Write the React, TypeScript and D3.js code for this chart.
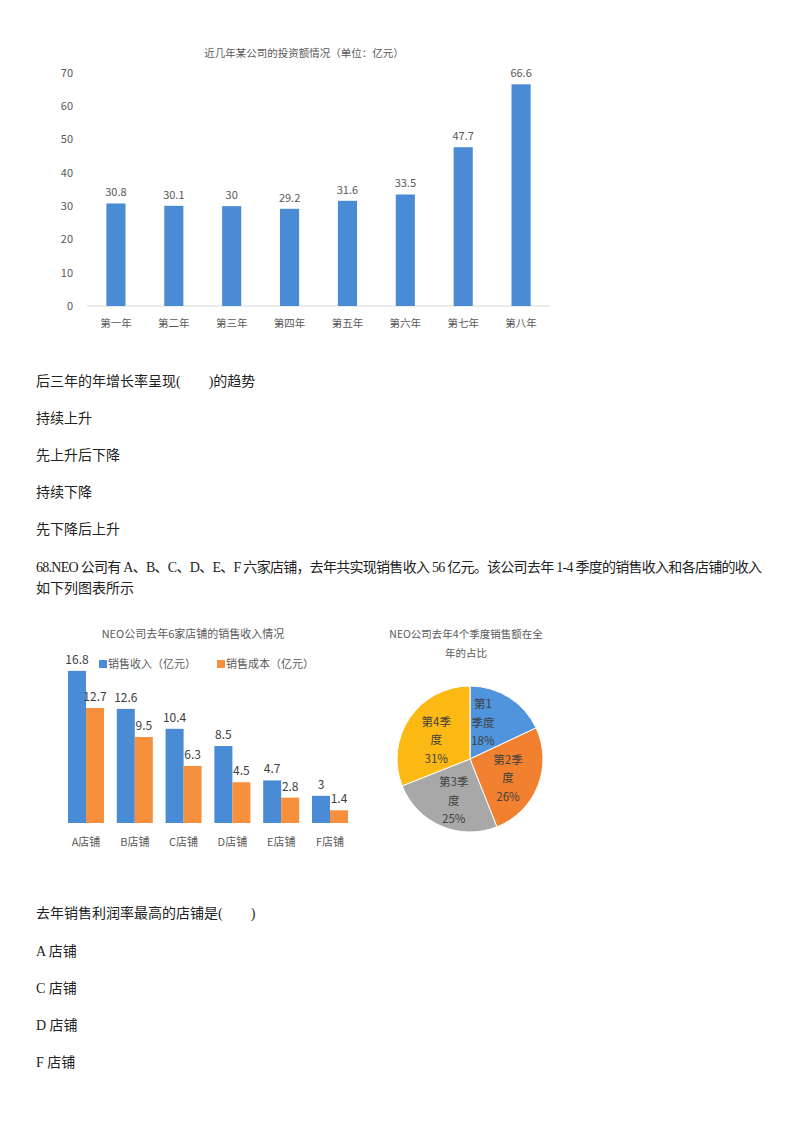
import React, {useEffect, useRef} from 'react';
import * as d3 from 'd3';

// chart 1: investment by year
const YEARS = ['第一年', '第二年', '第三年', '第四年', '第五年', '第六年', '第七年', '第八年'];
const INVESTMENT = [30.8, 30.1, 30, 29.2, 31.6, 33.5, 47.7, 66.6];
const INVESTMENT_TICKS = [0, 10, 20, 30, 40, 50, 60, 70];

// chart 2: stores
const STORES = ['A店铺', 'B店铺', 'C店铺', 'D店铺', 'E店铺', 'F店铺'];
const STORE_REVENUE = [16.8, 12.6, 10.4, 8.5, 4.7, 3];
const STORE_COST = [12.7, 9.5, 6.3, 4.5, 2.8, 1.4];
const SERIES_NAMES = ['销售收入（亿元）', '销售成本（亿元）'];

// chart 3: quarters
const QUARTER_LINES = [['第1', '季度'], ['第2季', '度'], ['第3季', '度'], ['第4季', '度']];
const QUARTER_SHARE = [18, 26, 25, 31];

// question text
const QUESTION_1 = '后三年的年增长率呈现(\u3000\u3000)的趋势';
const OPTIONS_1 = ['持续上升', '先上升后下降', '持续下降', '先下降后上升'];
const QUESTION_2 = [
    '68.NEO 公司有 A、B、C、D、E、F 六家店铺，去年共实现销售收入 56 亿元。该公司去年 1-4 季度的销售收入和各店铺的收入',
    '如下列图表所示',
];
const QUESTION_3 = '去年销售利润率最高的店铺是(\u3000\u3000)';
const OPTIONS_3 = ['A 店铺', 'C 店铺', 'D 店铺', 'F 店铺'];

const CHART_FONT = '"Noto Sans CJK SC", "Noto Sans", sans-serif';
const BODY_FONT = '"Liberation Serif", "Noto Sans CJK SC", serif';
const LABEL_GRAY = '#595959';
const BLUE = '#4a8bd5';
const ORANGE = '#f7903d';
const PIE_COLORS = ['#4f94dc', '#f2812f', '#a8a8a8', '#fdb913'];

const App: React.FC = () => {
    const svgRef = useRef<SVGSVGElement | null>(null);

    useEffect(() => {
        if (!svgRef.current) return;
        const svg = d3.select(svgRef.current);
        svg.selectAll('*').remove();
        drawInvestmentChart(svg);
        drawStoreChart(svg);
        drawQuarterPie(svg);
        drawText(svg);
    }, []);

    const drawInvestmentChart = (svg: d3.Selection<SVGSVGElement, unknown, null, undefined>) => {
        const g = svg.append('g').style('font-family', CHART_FONT);
        const x = d3.scaleBand<string>().domain(YEARS).range([87, 550]).paddingInner(0.67).paddingOuter(0.335);
        const y = d3.scaleLinear().domain([0, 70]).range([306, 73]);

        g.append('text')
            .attr('x', 304)
            .attr('y', 57)
            .attr('text-anchor', 'middle')
            .style('font-size', '10.5px')
            .style('fill', LABEL_GRAY)
            .text('近几年某公司的投资额情况（单位：亿元）');

        g.selectAll('.tick-label')
            .data(INVESTMENT_TICKS)
            .enter()
            .append('text')
            .attr('x', 73)
            .attr('y', (d) => y(d))
            .attr('dy', '0.35em')
            .attr('text-anchor', 'end')
            .style('font-size', '11px')
            .style('fill', LABEL_GRAY)
            .text((d) => d);

        g.append('line')
            .attr('x1', 87)
            .attr('x2', 550)
            .attr('y1', y(0))
            .attr('y2', y(0))
            .attr('stroke', '#d9d9d9');

        g.selectAll('.bar')
            .data(INVESTMENT)
            .enter()
            .append('rect')
            .attr('x', (_, i) => x(YEARS[i]) as number)
            .attr('y', (d) => y(d))
            .attr('width', x.bandwidth())
            .attr('height', (d) => y(0) - y(d))
            .attr('fill', BLUE);

        g.selectAll('.value')
            .data(INVESTMENT)
            .enter()
            .append('text')
            .attr('x', (_, i) => (x(YEARS[i]) as number) + x.bandwidth() / 2)
            .attr('y', (d) => y(d) - 7)
            .attr('text-anchor', 'middle')
            .style('font-size', '11px')
            .style('fill', LABEL_GRAY)
            .text((d) => d);

        g.selectAll('.cat')
            .data(YEARS)
            .enter()
            .append('text')
            .attr('x', (d) => (x(d) as number) + x.bandwidth() / 2)
            .attr('y', 327)
            .attr('text-anchor', 'middle')
            .style('font-size', '10.5px')
            .style('fill', LABEL_GRAY)
            .text((d) => d);
    };

    const drawStoreChart = (svg: d3.Selection<SVGSVGElement, unknown, null, undefined>) => {
        const g = svg.append('g').style('font-family', CHART_FONT);
        const x0 = d3.scaleBand<string>().domain(STORES).range([61.6, 354.4]).paddingInner(0.262).paddingOuter(0.131);
        const x1 = d3.scaleBand<number>().domain([0, 1]).range([0, x0.bandwidth()]);
        const y = d3.scaleLinear().domain([0, 18]).range([823, 660]);
        const series = [STORE_REVENUE, STORE_COST];
        const colors = [BLUE, ORANGE];

        g.append('text')
            .attr('x', 193)
            .attr('y', 638)
            .attr('text-anchor', 'middle')
            .style('font-size', '11px')
            .style('fill', LABEL_GRAY)
            .text('NEO公司去年6家店铺的销售收入情况');

        // legend
        const legendX = [99, 217];
        SERIES_NAMES.forEach((name, i) => {
            g.append('rect')
                .attr('x', legendX[i])
                .attr('y', 660)
                .attr('width', 8)
                .attr('height', 8)
                .attr('fill', colors[i]);
            g.append('text')
                .attr('x', legendX[i] + 9)
                .attr('y', 668)
                .style('font-size', '11px')
                .style('fill', LABEL_GRAY)
                .text(name);
        });

        series.forEach((values, s) => {
            g.selectAll(`.bar${s}`)
                .data(values)
                .enter()
                .append('rect')
                .attr('x', (_, i) => (x0(STORES[i]) as number) + (x1(s) as number))
                .attr('y', (d) => y(d))
                .attr('width', x1.bandwidth())
                .attr('height', (d) => y(0) - y(d))
                .attr('fill', colors[s]);

            g.selectAll(`.val${s}`)
                .data(values)
                .enter()
                .append('text')
                .attr('x', (_, i) => (x0(STORES[i]) as number) + (x1(s) as number) + x1.bandwidth() / 2)
                .attr('y', (d) => y(d) - 7)
                .attr('text-anchor', 'middle')
                .style('font-size', '12px')
                .style('fill', '#404040')
                .text((d) => d);
        });

        g.selectAll('.store')
            .data(STORES)
            .enter()
            .append('text')
            .attr('x', (d) => (x0(d) as number) + x0.bandwidth() / 2)
            .attr('y', 846)
            .attr('text-anchor', 'middle')
            .style('font-size', '11px')
            .style('fill', LABEL_GRAY)
            .text((d) => d);
    };

    const drawQuarterPie = (svg: d3.Selection<SVGSVGElement, unknown, null, undefined>) => {
        const g = svg.append('g').style('font-family', CHART_FONT);
        const radius = 73;

        ['NEO公司去年4个季度销售额在全', '年的占比'].forEach((line, i) => {
            g.append('text')
                .attr('x', 466)
                .attr('y', 638 + i * 19)
                .attr('text-anchor', 'middle')
                .style('font-size', '10.5px')
                .style('fill', LABEL_GRAY)
                .text(line);
        });

        const pieGroup = g.append('g').attr('transform', 'translate(470,759)');
        const pie = d3.pie<number>().sort(null).value((d) => d);
        const arc = d3.arc<d3.PieArcDatum<number>>().innerRadius(0).outerRadius(radius);
        const labelArc = d3.arc<d3.PieArcDatum<number>>().innerRadius(radius * 0.56).outerRadius(radius * 0.56);
        const arcs = pie(QUARTER_SHARE);

        pieGroup.selectAll('path')
            .data(arcs)
            .enter()
            .append('path')
            .attr('d', (d) => arc(d) as string)
            .attr('fill', (_, i) => PIE_COLORS[i])
            .attr('stroke', 'white')
            .attr('stroke-width', 1);

        arcs.forEach((d, i) => {
            let [cx, cy] = labelArc.centroid(d);
            // keep the narrow first slice's label off the boundary
            if (i === 0) {
                cx -= 9;
                cy -= 2;
            } else {
                cy += 4;
            }
            const lines = [...QUARTER_LINES[i], `${QUARTER_SHARE[i]}%`];
            const text = pieGroup.append('text')
                .attr('text-anchor', 'middle')
                .style('font-size', '11.5px')
                .style('fill', '#404040');
            lines.forEach((line, j) => {
                text.append('tspan')
                    .attr('x', cx)
                    .attr('y', cy + (j - 1) * 18.5)
                    .attr('dy', '0.35em')
                    .text(line);
            });
        });
    };

    const drawText = (svg: d3.Selection<SVGSVGElement, unknown, null, undefined>) => {
        const g = svg.append('g')
            .style('font-family', BODY_FONT)
            .style('font-size', '14px')
            .style('fill', '#222')
            .style('white-space', 'pre');
        const addLine = (txt: string, y: number, fitWidth?: number) => {
            const t = g.append('text').attr('x', 36).attr('y', y).text(txt);
            if (fitWidth) {
                t.attr('textLength', fitWidth).attr('lengthAdjust', 'spacing');
            }
        };

        addLine(QUESTION_1, 386);
        OPTIONS_1.forEach((o, i) => addLine(o, 423 + i * 37));
        QUESTION_2.forEach((l, i) => addLine(l, 572 + i * 21, i === 0 ? 726 : undefined));
        addLine(QUESTION_3, 918);
        OPTIONS_3.forEach((o, i) => addLine(o, 956 + i * 37));
    };

    return (
        <svg
            ref={svgRef}
            width={800}
            height={1132}
            style={{position: 'absolute', left: 0, top: 0, background: 'white'}}
        ></svg>
    );
};

export default App;
